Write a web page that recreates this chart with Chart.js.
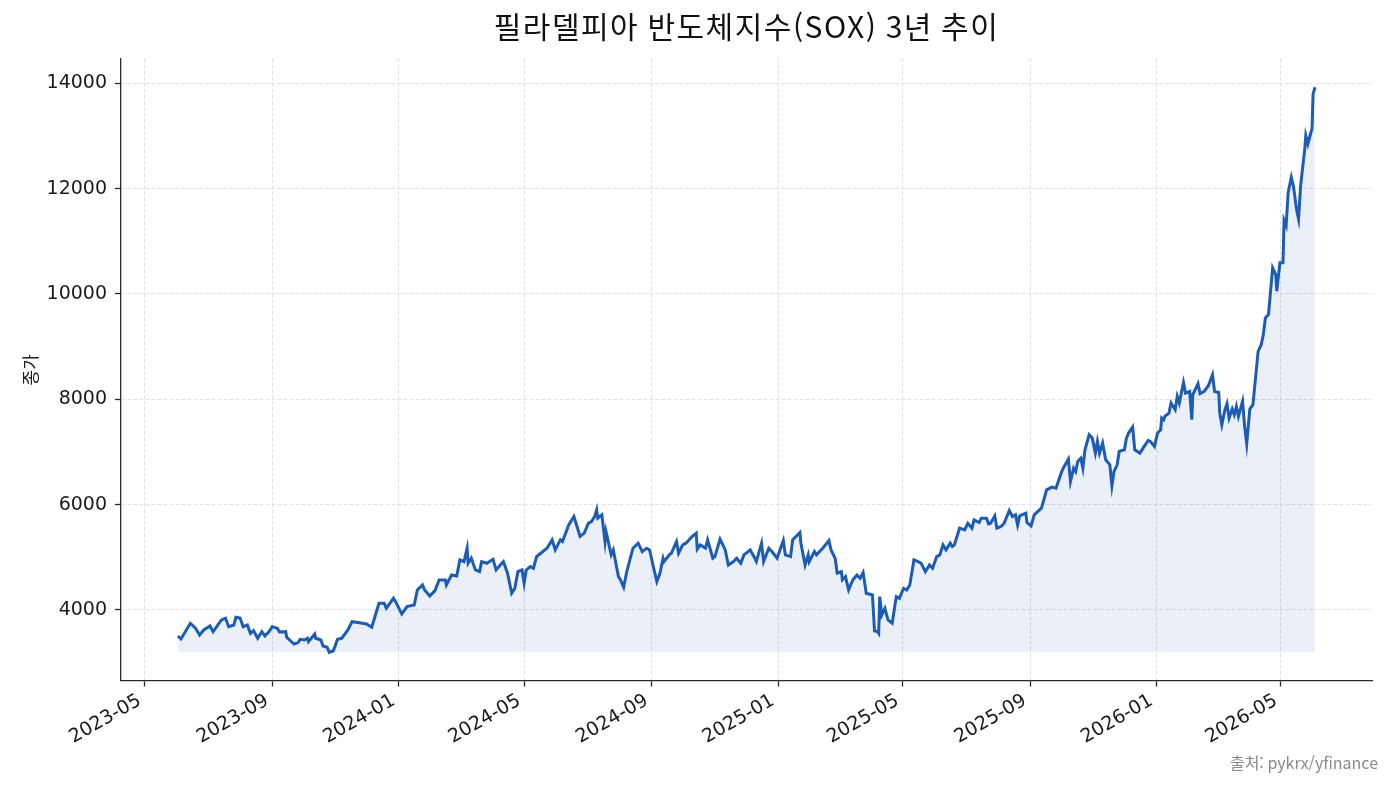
<!DOCTYPE html>
<html lang="ko">
<head>
<meta charset="utf-8">
<title>필라델피아 반도체지수(SOX) 3년 추이</title>
<script src="https://cdn.jsdelivr.net/npm/chart.js@4.4.1/dist/chart.umd.min.js"></script>
<style>
  html, body { margin: 0; padding: 0; background: #fff; }
  #wrap { width: 1393px; height: 786px; }
</style>
</head>
<body>
<div id="wrap"><canvas id="soxChart" width="1393" height="786"></canvas></div>
<script>
/* =============================================
   SOX – 3-year close chart
   ============================================= */

const TITLE  = '필라델피아 반도체지수(SOX) 3년 추이';
const YLABEL = '종가';
const SOURCE = '출처: pykrx/yfinance';

// ----- Data -----
const dates = [
  '2023-06-02','2023-06-05','2023-06-14','2023-06-19','2023-06-23','2023-06-27','2023-07-03','2023-07-06',
  '2023-07-14','2023-07-18','2023-07-21','2023-07-26','2023-07-28','2023-08-01','2023-08-04','2023-08-08',
  '2023-08-11','2023-08-14','2023-08-18','2023-08-22','2023-08-25','2023-08-29','2023-09-01','2023-09-06',
  '2023-09-08','2023-09-14','2023-09-15','2023-09-22','2023-09-26','2023-09-28','2023-10-02','2023-10-05',
  '2023-10-06','2023-10-12','2023-10-13','2023-10-18','2023-10-20','2023-10-24','2023-10-26','2023-10-30',
  '2023-11-03','2023-11-07','2023-11-13','2023-11-17','2023-11-24','2023-12-01','2023-12-06','2023-12-13',
  '2023-12-18','2023-12-20','2023-12-27','2023-12-29',
  '2024-01-04','2024-01-09','2024-01-16','2024-01-19','2024-01-24','2024-01-26','2024-01-31','2024-02-05',
  '2024-02-09','2024-02-15','2024-02-16','2024-02-21','2024-02-26','2024-02-29','2024-03-04','2024-03-07',
  '2024-03-08','2024-03-11','2024-03-15','2024-03-19','2024-03-21','2024-03-26','2024-04-01','2024-04-04',
  '2024-04-08','2024-04-11','2024-04-15','2024-04-19','2024-04-22','2024-04-25','2024-04-29','2024-05-01',
  '2024-05-03','2024-05-07','2024-05-10','2024-05-13','2024-05-17','2024-05-23','2024-05-28','2024-05-31',
  '2024-06-05','2024-06-07','2024-06-13','2024-06-18','2024-06-24','2024-06-28','2024-07-02','2024-07-05',
  '2024-07-08','2024-07-10','2024-07-11','2024-07-15','2024-07-18','2024-07-19','2024-07-24','2024-07-26',
  '2024-07-31','2024-08-02','2024-08-05','2024-08-08','2024-08-14','2024-08-19','2024-08-23','2024-08-27',
  '2024-08-30','2024-09-03','2024-09-06','2024-09-09','2024-09-12','2024-09-13','2024-09-18','2024-09-20',
  '2024-09-25','2024-09-27','2024-10-01','2024-10-04','2024-10-10','2024-10-14','2024-10-15','2024-10-18',
  '2024-10-23','2024-10-25','2024-10-30','2024-11-01','2024-11-06','2024-11-11','2024-11-14','2024-11-19',
  '2024-11-22','2024-11-26','2024-11-29','2024-12-03','2024-12-05','2024-12-09','2024-12-11','2024-12-16',
  '2024-12-18','2024-12-23','2024-12-26','2024-12-31',
  '2025-01-06','2025-01-08','2025-01-13','2025-01-15','2025-01-22','2025-01-23','2025-01-27','2025-01-30',
  '2025-01-31','2025-02-05','2025-02-07','2025-02-13','2025-02-19','2025-02-21','2025-02-25','2025-02-27',
  '2025-03-03','2025-03-04','2025-03-07','2025-03-10','2025-03-14','2025-03-18','2025-03-21','2025-03-24',
  '2025-03-27','2025-04-02','2025-04-04','2025-04-07','2025-04-08','2025-04-09','2025-04-11','2025-04-14',
  '2025-04-17','2025-04-21','2025-04-25','2025-04-28','2025-05-02','2025-05-05','2025-05-08','2025-05-12',
  '2025-05-16','2025-05-19','2025-05-23','2025-05-27','2025-05-30','2025-06-03','2025-06-06','2025-06-09',
  '2025-06-12','2025-06-16','2025-06-18','2025-06-20','2025-06-25','2025-06-30','2025-07-03','2025-07-07',
  '2025-07-09','2025-07-14','2025-07-16','2025-07-21','2025-07-23','2025-07-25','2025-07-29','2025-07-31',
  '2025-08-04','2025-08-07','2025-08-12','2025-08-15','2025-08-18','2025-08-20','2025-08-22','2025-08-28',
  '2025-08-29','2025-09-02','2025-09-05','2025-09-12','2025-09-17','2025-09-22','2025-09-26','2025-10-01',
  '2025-10-03','2025-10-08','2025-10-10','2025-10-13','2025-10-15','2025-10-17','2025-10-20','2025-10-22',
  '2025-10-24','2025-10-28','2025-10-31','2025-11-03','2025-11-05','2025-11-07','2025-11-10','2025-11-13',
  '2025-11-17','2025-11-19','2025-11-21','2025-11-24','2025-11-26','2025-12-01','2025-12-03','2025-12-05',
  '2025-12-09','2025-12-11','2025-12-16','2025-12-19','2025-12-24','2025-12-26','2025-12-30',
  '2026-01-02','2026-01-05','2026-01-06','2026-01-08','2026-01-09','2026-01-13','2026-01-15','2026-01-19',
  '2026-01-21','2026-01-23','2026-01-27','2026-01-29','2026-02-02','2026-02-04','2026-02-05','2026-02-10',
  '2026-02-12','2026-02-16','2026-02-20','2026-02-24','2026-02-26','2026-03-02','2026-03-03','2026-03-05',
  '2026-03-08','2026-03-10','2026-03-12','2026-03-15','2026-03-17','2026-03-19','2026-03-21','2026-03-25',
  '2026-03-27','2026-03-29','2026-04-01','2026-04-04','2026-04-06','2026-04-09','2026-04-12','2026-04-14',
  '2026-04-16','2026-04-19','2026-04-23','2026-04-26','2026-04-27','2026-04-30','2026-05-03','2026-05-04',
  '2026-05-06','2026-05-08','2026-05-11','2026-05-13','2026-05-16','2026-05-18','2026-05-20','2026-05-24',
  '2026-05-25','2026-05-27','2026-05-30','2026-05-31','2026-06-01','2026-06-03',
];

const closes = [
  3506, 3449, 3747, 3652, 3525, 3620, 3696, 3588,
  3810, 3842, 3683, 3715, 3861, 3848, 3683, 3715,
  3556, 3607, 3462, 3588, 3506, 3588, 3683, 3652,
  3582, 3588, 3481, 3354, 3380, 3443, 3430, 3462,
  3398, 3544, 3462, 3430, 3316, 3291, 3197, 3226,
  3443, 3462, 3620, 3778, 3759, 3734, 3671, 4127,
  4127, 4032, 4222, 4158,
  3924, 4063, 4095, 4380, 4475, 4380, 4266, 4367,
  4570, 4570, 4475, 4665, 4646, 4950, 4918, 5173,
  4887, 4982, 4760, 4728, 4918, 4887, 4963, 4760,
  4855, 4918, 4697, 4317, 4412, 4728, 4760, 4507,
  4760, 4823, 4792, 5013, 5077, 5173, 5331, 5141,
  5331, 5299, 5616, 5775, 5394, 5458, 5648, 5679,
  5775, 5901, 5743, 5806, 5299, 5489, 5046, 5141,
  4634, 4570, 4432, 4728, 5173, 5268, 5109, 5173,
  5141, 4792, 4538, 4697, 4982, 4918, 5046, 5077,
  5299, 5077, 5236, 5268, 5394, 5458, 5154, 5236,
  5173, 5331, 4982, 5013, 5344, 5141, 4855, 4918,
  4982, 4887, 5046, 5109, 5141, 5000, 4918, 5268,
  4918, 5173, 5109, 4982,
  5318, 5046, 5013, 5331, 5470, 5268, 4855, 5046,
  4918, 5109, 5046, 5173, 5318, 5141, 4982, 4697,
  4728, 4570, 4634, 4380, 4570, 4665, 4602, 4709,
  4317, 4285, 3600, 3590, 3560, 4254, 3905, 4032,
  3810, 3747, 4254, 4222, 4412, 4380, 4475, 4950,
  4918, 4887, 4728, 4855, 4792, 5013, 5046, 5236,
  5141, 5268, 5204, 5236, 5553, 5521, 5648, 5553,
  5711, 5660, 5743, 5743, 5635, 5648, 5787, 5553,
  5585, 5648, 5888, 5775, 5806, 5616, 5787, 5838,
  5660, 5597, 5806, 5934, 6281, 6332, 6313, 6598,
  6693, 6864, 6440, 6693, 6630, 6820, 6883, 6693,
  7042, 7327, 7264, 6979, 7201, 6979, 7169, 6852,
  6757, 6357, 6630, 6757, 7011, 7042, 7264, 7359,
  7473, 7042, 6979, 7074, 7220, 7201, 7106,
  7359, 7422, 7644, 7612, 7676, 7739, 7929, 7802,
  8056, 7929, 8321, 8118, 8150, 7612, 8087, 8296,
  8106, 8150, 8258, 8468, 8150, 8131, 7739, 7517,
  7802, 7916, 7644, 7815, 7707, 7865, 7676, 7961,
  7486, 7156, 7815, 7897, 8309, 8911, 9037, 9228,
  9545, 9608, 10496, 10369, 10052, 10591, 10591, 11400,
  11298, 11930, 12216, 12057, 11614, 11424, 12057, 12754,
  13007, 12849, 13071, 13134, 13800, 13926,
];

const xTickLabels = ['2023-05','2023-09','2024-01','2024-05','2024-09','2025-01','2025-05','2025-09','2026-01','2026-05'];
const yTickValues = [4000, 6000, 8000, 10000, 12000, 14000];

// ----- Colours / fonts -----
const LINE_COLOR = '#1d5cb4';
const FILL_COLOR = 'rgba(29,92,180,0.09)';
const AXIS_COLOR = '#2b2b2b';
const GRID_COLOR = '#e2e2e2';
const TICK_FONT  = { family: '"DejaVu Sans", "Noto Sans CJK KR", sans-serif', size: 19 };
const KR_FONT    = '"Noto Sans CJK KR", "DejaVu Sans", sans-serif';

// ----- Helpers -----
const ts = d => Date.parse(d.length === 7 ? d + '-01' : d);

function fmtMonth(v) {
  const d = new Date(v);
  return `${d.getUTCFullYear()}-${String(d.getUTCMonth() + 1).padStart(2, '0')}`;
}

// matplotlib-style 5% margins
const xFirst = ts(dates[0]), xLast = ts(dates[dates.length - 1]);
const xPad   = (xLast - xFirst) * 0.05;
const yMinV  = Math.min(...closes), yMaxV = Math.max(...closes);
const yPad   = (yMaxV - yMinV) * 0.05;

// ----- Title / source text -----
const figText = {
  id: 'figText',
  afterDraw(chart) {
    const { ctx, chartArea } = chart;
    ctx.save();
    ctx.fillStyle = '#111';
    ctx.font = `30px ${KR_FONT}`;
    ctx.letterSpacing = '1.5px';
    ctx.textAlign = 'center';
    ctx.textBaseline = 'middle';
    ctx.fillText(TITLE, (chartArea.left + chartArea.right) / 2, 27);

    ctx.letterSpacing = '0px';
    ctx.fillStyle = '#8a8a8a';
    ctx.font = `16px ${KR_FONT}`;
    ctx.textAlign = 'right';
    ctx.fillText(SOURCE, 1378, 763);
    ctx.restore();
  },
};

// ----- Chart -----
const ctx = document.getElementById('soxChart').getContext('2d');
new Chart(ctx, {
  type: 'line',
  data: {
    datasets: [{
      label: YLABEL,
      data: dates.map((d, i) => ({ x: ts(d), y: closes[i] })),
      borderColor: LINE_COLOR,
      backgroundColor: FILL_COLOR,
      borderWidth: 3,
      pointRadius: 0,
      tension: 0,
      fill: { value: yMinV },
    }],
  },
  options: {
    responsive: false,
    animation: false,
    devicePixelRatio: 1,
    layout: { padding: { top: 59, right: 21, left: 0, bottom: 0 } },
    plugins: { legend: { display: false }, tooltip: { enabled: false }, title: { display: false } },
    scales: {
      x: {
        type: 'linear',
        min: xFirst - xPad,
        max: xLast + xPad,
        afterBuildTicks: s => { s.ticks = xTickLabels.map(l => ({ value: ts(l) })); },
        afterFit: s => { s.height = 786 - 680.5; },
        ticks: {
          callback: v => fmtMonth(v),
          autoSkip: false, minRotation: 30, maxRotation: 30,
          color: '#1a1a1a', font: TICK_FONT, padding: 3, labelOffset: -5,
        },
        grid: { color: GRID_COLOR, lineWidth: 1, tickColor: AXIS_COLOR, tickLength: 6, tickWidth: 1.3 },
        border: { color: AXIS_COLOR, width: 1.3, dash: [4, 2] },
      },
      y: {
        type: 'linear',
        min: yMinV - yPad,
        max: yMaxV + yPad,
        afterBuildTicks: s => { s.ticks = yTickValues.map(v => ({ value: v })); },
        afterFit: s => { s.width = 121; },
        ticks: { color: '#1a1a1a', font: TICK_FONT, padding: 8, callback: v => String(v) },
        grid: { color: GRID_COLOR, lineWidth: 1, tickColor: AXIS_COLOR, tickLength: 6, tickWidth: 1.3 },
        border: { color: AXIS_COLOR, width: 1.3, dash: [4, 2] },
        title: { display: true, text: YLABEL, color: '#1a1a1a', font: { family: KR_FONT, size: 17 }, padding: { top: 20 } },
      },
    },
  },
  plugins: [figText],
});
</script>
</body>
</html>
